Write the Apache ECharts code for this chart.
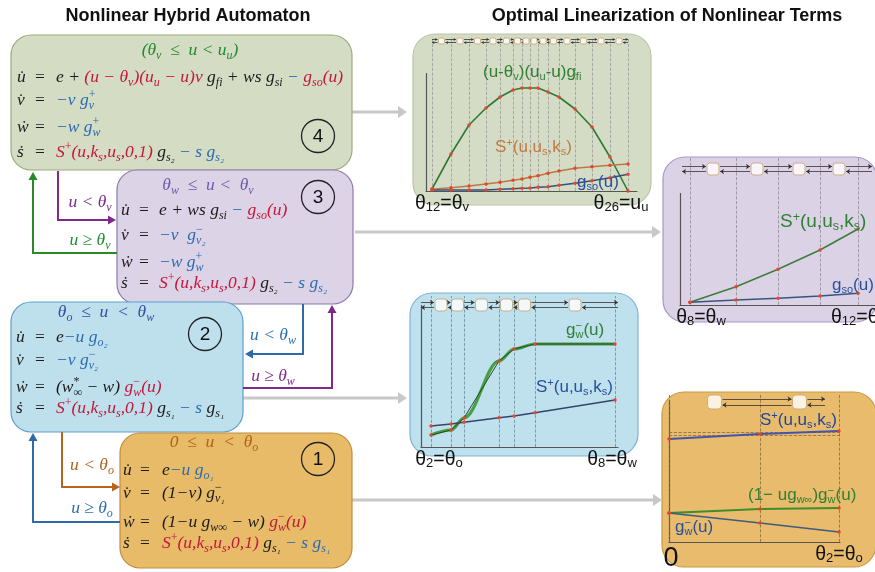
<!DOCTYPE html>
<html><head><meta charset="utf-8">
<script src="https://cdn.jsdelivr.net/npm/echarts@6/dist/echarts.min.js"></script>
<style>html,body{margin:0;padding:0;background:#fff}#c{width:875px;height:572px}</style>
</head><body><div id="c"></div><script>
// ---------------- data ----------------
// Mode 4 panel: breakpoints θ12..θ26 (relative u units) and PWL values
const p4Breaks = [0, 19, 37, 54, 68, 81, 90, 98, 106, 116, 127, 143, 160, 178, 196];
const p4Fi  = [0.02, 0.37, 0.66, 0.83, 0.94, 1.01, 1.03, 1.03, 1.03, 0.99, 0.94, 0.82, 0.64, 0.34, 0.00];
const p4S   = [0.017, 0.033, 0.05, 0.07, 0.087, 0.107, 0.12, 0.137, 0.153, 0.177, 0.20, 0.227, 0.243, 0.257, 0.27];
const p4Gso = [0.01, 0.01, 0.01, 0.01, 0.017, 0.023, 0.027, 0.03, 0.037, 0.043, 0.057, 0.077, 0.103, 0.133, 0.167];
const p4Ticks = [['θ','12','=θ','v'], ['θ','26','=u','u']];
// Mode 3 panel: θ8..θ12
const p3Breaks = [0, 46, 88, 130, 168];
const p3S   = [0.027, 0.183, 0.357, 0.55, 0.76];
const p3Gso = [0.027, 0.05, 0.067, 0.09, 0.117];
const p3Ticks = [['θ','8','=θ','w'], ['θ','12','=θ','v']];
// Mode 2 panel: θ2..θ8
const p2Breaks = [0, 20, 33, 68, 83, 104, 184];
const p2Gw = [0.12, 0.17, 0.29, 0.86, 0.98, 1.03, 1.03];
const p2S  = [0.21, 0.23, 0.247, 0.293, 0.31, 0.343, 0.47];
const p2Ticks = [['θ','2','=θ','o'], ['θ','8','=θ','w']];
// Mode 1 panel: 0..θ2
const p1Breaks = [0, 91, 170];
const p1S   = [1.03, 1.08, 1.11];
const p1Lin = [0.29, 0.33, 0.34];
const p1Gw  = [0.29, 0.19, 0.10];
const p1Levels = [1.07, 1.10];
const p1Ticks = [['0'], ['θ','2','=θ','o']];

// ---------------- styles ----------------
const SERIF = '"Liberation Serif","DejaVu Serif",serif';
const SANS = '"Liberation Sans",Arial,"DejaVu Sans",sans-serif';
const COL = {k:'#1c1c1c', r:'#c3173b', b:'#2c6cb0', g:'#1e8c2e', p:'#7c2a8c', l:'#6e5aa8', n:'#3b4ca0', o:'#b0621c',
             G:'#2f7f33', O:'#c27a42', B:'#28509a', N:'#24449a'};

function richFor(colors, family, size, sub, lh, italic, key) {
  const out = {};
  const slh = Math.round(sub * 1.2);
  for (const k in colors) {
    const base = {fontFamily: family, fontSize: size, lineHeight: lh, fontStyle: italic ? 'italic' : 'normal'};
    base[key] = colors[k];
    out[k] = base;
    out[k + 'n'] = Object.assign({}, base, {fontStyle: 'normal'});
    out[k + 's'] = Object.assign({}, base, {fontSize: sub, lineHeight: slh, verticalAlign: 'bottom'});
    out[k + 'u'] = Object.assign({}, base, {fontSize: sub, fontStyle: 'normal', lineHeight: slh, verticalAlign: 'top'});
    out[k + 'u0'] = Object.assign({}, out[k + 'u'], {width: 0});
  }
  return out;
}
const EQ = richFor(COL, SERIF, 17.5, 12, 23, true, 'fill');
const LAB = richFor(COL, SANS, 17, 11, 20, false, 'fill');
const LAB2 = richFor(COL, SANS, 19, 12.5, 22, false, 'fill');
const TICK = richFor({t:'#111'}, SANS, 19.5, 13, 21, false, 'color');
TICK.z = {color:'#111', fontFamily: SANS, fontSize: 27, lineHeight: 30};

function tickText(parts) {
  if (parts.length === 1) return '{z|' + parts[0] + '}';
  return parts.map((p, i) => (i % 2 === 0 ? '{t|' : '{ts|') + p + '}').join('');
}

// ---------------- graphic helpers ----------------
const G = [];
function rect(x, y, w, h, r, fill, stroke, z) {
  G.push({type:'rect', shape:{x, y, width:w, height:h, r}, style:{fill, stroke, lineWidth:1.2}, z, silent:true});
}
function txt(x, y, text, rich, align, z) {
  G.push({type:'text', z: z || 20, silent:true,
    style:{x, y, text, rich, align: align || 'left', verticalAlign:'middle'}});
}
function plain(x, y, text, font, fill, align) {
  G.push({type:'text', z:20, silent:true, style:{x, y, text, font, fill, align: align || 'center', verticalAlign:'middle'}});
}
function arrow(points, color, width, hl, hw, z) {
  const n = points.length;
  const [tx, ty] = points[n - 1], [px, py] = points[n - 2];
  const dx = tx - px, dy = ty - py, L = Math.hypot(dx, dy), ux = dx / L, uy = dy / L;
  const bx = tx - ux * hl, by = ty - uy * hl;
  const pts = points.slice(0, n - 1).concat([[bx, by]]);
  G.push({type:'polyline', z: z || 5, silent:true, shape:{points: pts}, style:{stroke: color, lineWidth: width, fill: null}});
  G.push({type:'polygon', z: z || 5, silent:true, shape:{points:[[tx, ty], [bx - uy * hw, by + ux * hw], [bx + uy * hw, by - ux * hw]]},
    style:{fill: color}});
}
function circleNum(cx, cy, t) {
  G.push({type:'circle', z:6, silent:true, shape:{cx, cy, r:16.5}, style:{fill:null, stroke:'#222', lineWidth:1.3}});
  plain(cx, cy + 1, t, '19px ' + SANS, '#111');
}
function eqBlock(x0, eqX, rhsX, ys, lhs, rhs) {
  ys.forEach((y, i) => {
    txt(x0, y, '{k|' + lhs[i] + '}', EQ, 'left');
    txt(eqX, y, '{kn|=}', EQ, 'center');
    txt(rhsX, y, rhs[i], EQ, 'left');
  });
}

// titles
plain(188, 16, 'Nonlinear Hybrid Automaton', 'bold 18px ' + SANS, '#111');
plain(667, 16, 'Optimal Linearization of Nonlinear Terms', 'bold 18px ' + SANS, '#111');

// gray linking arrows
arrow([[352,112],[407,112]], '#c8c8c8', 3, 9, 6, 1);
arrow([[355,232],[661,232]], '#c8c8c8', 3, 9, 6, 1);
arrow([[243,398],[407,398]], '#c8c8c8', 3, 9, 6, 1);
arrow([[352,500],[662,500]], '#c8c8c8', 3, 9, 6, 1);

// mode boxes
rect(11, 35, 341, 135, 20, '#d4dcc4', '#9aab7a', 2);
rect(117, 170, 236, 134, 20, '#ddd3e7', '#8e79ad', 2);
rect(11, 302, 232, 130, 20, '#bee0ed', '#5e9fc9', 2);
rect(120, 433, 232, 135, 20, '#e8bb69', '#c28d3e', 2);

// right panels (behind the plots)
rect(413, 34, 238, 171, 22, '#d5dcc6', '#bcc6a8', 0);
rect(663, 157, 214, 165, 22, '#dcd2e6', '#a996c4', 0);
rect(410, 293, 228, 163, 22, '#bfe0ed', '#7fb3d2', 0);
rect(662, 392, 214, 175, 22, '#e8bc6c', '#c99a44', 0);

// transition arrows
arrow([[58,171],[58,220],[116,220]], '#80288c', 2, 8, 4.5, 5);
arrow([[117,253],[33,253],[33,172]], '#2a8a2a', 2, 8, 4.5, 5);
arrow([[303,304],[303,354],[245,354]], '#2e6aa8', 2, 8, 4.5, 5);
arrow([[243,388],[332,388],[332,305]], '#80288c', 2, 8, 4.5, 5);
arrow([[62,432],[62,487],[120,487]], '#b8641c', 2, 8, 4.5, 5);
arrow([[120,522],[33,522],[33,433]], '#2e6aa8', 2, 8, 4.5, 5);
txt(90, 202, '{p|u < θ}{ps|v}', EQ, 'center');
txt(90, 240, '{g|u ≥ θ}{gs|v}', EQ, 'center');
txt(273, 335, '{b|u < θ}{bs|w}', EQ, 'center');
txt(273, 376, '{p|u ≥ θ}{ps|w}', EQ, 'center');
txt(92, 465, '{o|u < θ}{os|o}', EQ, 'center');
txt(92, 508, '{b|u ≥ θ}{bs|o}', EQ, 'center');

// equations
const LHS = ['u\u0307', 'v\u0307', 'w\u0307', 's\u0307'];
const Splus1 = '{r|S}{ru|+}{r|(u,k}{rs|s}{r|,u}{rs|s}{r|,0,1)}';
txt(190, 50, '{g|(θ}{gs|v}{g|  ≤  u < u}{gs|u}{g|)}', EQ, 'center');
eqBlock(17, 40, 56, [77, 100, 127, 152], LHS, [
  '{k|e + }{r|(u − θ}{rs|v}{r|)(u}{rs|u}{r| − u)v}{k| g}{ks|fi}{k| + ws g}{ks|si}{b| − }{r|g}{rs|so}{r|(u)}',
  '{b|−v g}{bu0|+}{bs|v}',
  '{b|−w g}{bu0|+}{bs|w}',
  Splus1 + '{k| g}{ks|s₂}{b| − s g}{bs|s₂}']);
circleNum(318, 136, '4');

txt(208, 185, '{l|θ}{ls|w}{l|  ≤  u <  θ}{ls|v}', EQ, 'center');
eqBlock(121, 144, 159, [210, 235, 262, 283], LHS, [
  '{k|e + ws g}{ks|si}{b| − }{r|g}{rs|so}{r|(u)}',
  '{b|−v  g}{bu0|−}{bs|v₂}',
  '{b|−w g}{bu0|+}{bs|w}',
  Splus1 + '{k| g}{ks|s₂}{b| − s g}{bs|s₂}']);
circleNum(318, 197, '3');

txt(106, 312, '{n|θ}{ns|o}{n|  ≤  u  <  θ}{ns|w}', EQ, 'center');
eqBlock(16, 40, 56, [337, 360, 387, 408], LHS, [
  '{k|e}{b|−u g}{bs|o₂}',
  '{b|−v g}{bu0|−}{bs|v₂}',
  '{k|(w}{ku0|*}{ks|∞}{k| − w) }{r|g}{ru0|−}{rs|w}{r|(u)}',
  Splus1 + '{k| g}{ks|s₁}{b| − s }{k|g}{ks|s₁}']);
circleNum(205, 334, '2');

txt(214, 442, '{o|0  ≤  u  <  θ}{os|o}', EQ, 'center');
eqBlock(123, 145, 162, [470, 493, 522, 543], LHS, [
  '{k|e}{b|−u g}{bs|o₁}',
  '{k|(1−v) g}{ku0|−}{ks|v₁}',
  '{k|(1−u g}{ks|w∞}{k| − w) }{r|g}{ru0|−}{rs|w}{r|(u)}',
  Splus1 + '{k| g}{ks|s₁}{b| − s g}{bs|s₁}']);
circleNum(318, 459, '1');

// panel labels
txt(483, 72, '{G|(u-θ}{Gs|v}{G|)(u}{Gs|u}{G|-u)g}{Gs|fi}', LAB, 'left', 20);
txt(495, 147, '{O|S}{Ou|+}{O|(u,u}{Os|s}{O|,k}{Os|s}{O|)}', LAB, 'left', 20);
txt(577, 182, '{B|g}{Bs|so}{B|(u)}', LAB, 'left', 20);
txt(780, 222, '{G|S}{Gu|+}{G|(u,u}{Gs|s}{G|,k}{Gs|s}{G|)}', LAB2, 'left', 20);
txt(832, 285, '{B|g}{Bs|so}{B|(u)}', LAB, 'left', 20);
txt(566, 330, '{G|g}{Gu0|−}{Gs|w}{G|(u)}', LAB, 'left', 20);
txt(536, 387, '{B|S}{Bu|+}{B|(u,u}{Bs|s}{B|,k}{Bs|s}{B|)}', LAB, 'left', 20);
txt(760, 420, '{N|S}{Nu|+}{N|(u,u}{Ns|s}{N|,k}{Ns|s}{N|)}', LAB, 'left', 20);
txt(748, 495, '{G|(1− ug}{Gs|w∞}{G|)g}{Gu0|−}{Gs|w}{G|(u)}', LAB, 'left', 20);
txt(675, 527, '{B|g}{Bu0|−}{Bs|w}{B|(u)}', LAB, 'left', 20);

// ---------------- plots ----------------
const panels = [
  {grid:{left:426, top:37, width:211, height:154}, xMin:-6, xMax:205, yMax:1.54, breaks:p4Breaks,
   curves:[{data:p4Fi, color:'#2f7a33', width:1.6}, {data:p4S, color:'#b97a45', width:1.6}, {data:p4Gso, color:'#34507e', width:1.4}],
   chainY:1.50, chain:[0, 196], sq:6, gap:1.6, arr:2.5, yTop:1.18, ticks:p4Ticks, dash:'#9a9a9a', shift:[20, 14]},
  {grid:{left:680, top:158, width:195, height:147}, xMin:-10, xMax:185, yMax:1.47, breaks:p3Breaks,
   curves:[{data:p3S, color:'#3a7d3c', width:1.5}, {data:p3Gso, color:'#37557f', width:1.4}],
   chainY:1.36, chain:[-8, 182], sq:12, gap:2.5, arr:4, yTop:1.12, ticks:p3Ticks, dash:'#8f8a96', shift:[22, 0]},
  {grid:{left:421, top:296, width:197, height:151}, xMin:-10, xMax:187, yMax:1.51, breaks:p2Breaks,
   curves:[{data:p2Gw, color:'#45a045', width:3.2, smooth:true, nosym:true}, {data:p2Gw, color:'#2d452d', width:1},
           {data:p2S, color:'#33466a', width:1.5}],
   chainY:1.42, chain:[-10, 187], sq:12, gap:2.5, arr:4, yTop:1.42, ticks:p2Ticks, dash:'#6c8a98', shift:[16, 6]},
  {grid:{left:669, top:395, width:171, height:147}, xMin:0, xMax:171, yMax:1.47, breaks:p1Breaks,
   curves:[{data:p1S, color:'#4454aa', width:2}, {data:p1Lin, color:'#3f8d2c', width:2}, {data:p1Gw, color:'#405b80', width:1.6}],
   chainY:1.40, chain:[40, 156], sq:14, gap:3, arr:4, yTop:1.42, ticks:p1Ticks, dash:'#8a6a3a', levels:p1Levels, shift:[4, 0]}
];

const grids = [], xAxes = [], yAxes = [], series = [];
panels.forEach((p, i) => {
  grids.push(Object.assign({outerBoundsMode:'none', containLabel:false}, p.grid));
  const first = p.breaks[0], last = p.breaks[p.breaks.length - 1];
  const rich = Object.assign({}, TICK, {sa:{width:p.shift[0], lineHeight:21}, sb:{width:p.shift[1], lineHeight:21}});
  xAxes.push({type:'value', gridIndex:i, min:p.xMin, max:p.xMax,
    axisLine:{show:true, onZero:false, lineStyle:{color:'#555', width:1.2}}, axisTick:{show:false}, splitLine:{show:false},
    axisLabel:{show:true, customValues:[first, last], margin:2, hideOverlap:false, showMinLabel:true, showMaxLabel:true,
      formatter: v => v === first ? '{sa|}' + tickText(p.ticks[0]) : tickText(p.ticks[1]) + '{sb|}', rich}});
  yAxes.push({type:'value', gridIndex:i, min:0, max:p.yMax, show:false});
  const ax = {xAxisIndex:i, yAxisIndex:i, silent:true, animation:false};
  // dashed breakpoint guides (+ optional level guides)
  const mlData = p.breaks.map(b => ({xAxis:b}));
  (p.levels || []).forEach(v => mlData.push({yAxis:v}));
  series.push(Object.assign({type:'line', z:3, data:p.breaks.map((b, j) => [b, p.curves[0].data[j]]), showSymbol:false,
    lineStyle:{opacity:0},
    markLine:{silent:true, symbol:['none','none'], label:{show:false}, animation:false,
      lineStyle:{type:'dashed', color:p.dash, width:0.8}, data:mlData}}, ax));
  // y axis line
  series.push(Object.assign({type:'lines', coordinateSystem:'cartesian2d', z:4, polyline:false,
    lineStyle:{color:'#555', width:1.2, opacity:1, curveness:0}, symbol:['none','none'],
    data:[{coords:[[p.xMin, 0], [p.xMin, p.yTop]]}]}, ax));
  // curves
  p.curves.forEach(c => {
    series.push(Object.assign({type:'line', z:5, data:p.breaks.map((b, j) => [b, c.data[j]]),
      smooth: c.smooth ? 0.35 : false, smoothMonotone:'x',
      symbol:'circle', symbolSize:3.5, showSymbol:!c.nosym, itemStyle:{color:'#e8442a'},
      lineStyle:{color:c.color, width:c.width}}, ax));
  });
  // chain of modes (squares + transition arrows)
  const mids = p.breaks.slice(1).map((b, j) => (b + p.breaks[j]) / 2);
  const xs = (p.xMax - p.xMin) / p.grid.width, ys = p.yMax / p.grid.height;
  const half = (p.sq / 2 + 1) * xs, dy = p.gap * ys;
  const stops = [p.chain[0]].concat(mids.filter(m => m > p.chain[0] && m < p.chain[1])).concat([p.chain[1]]);
  const up = [], down = [];
  for (let j = 0; j + 1 < stops.length; j++) {
    const a = stops[j] + (j === 0 ? 0 : half), b = stops[j + 1] - (j + 1 === stops.length - 1 ? 0 : half);
    if (b - a <= 0) continue;
    up.push({coords:[[a, p.chainY + dy], [b, p.chainY + dy]]});
    down.push({coords:[[b, p.chainY - dy], [a, p.chainY - dy]]});
  }
  series.push(Object.assign({type:'lines', coordinateSystem:'cartesian2d', z:6, polyline:false,
    lineStyle:{color:'#333', width:0.8, opacity:1}, symbol:['none','arrow'], symbolSize:p.arr,
    data:up.concat(down)}, ax));
  series.push(Object.assign({type:'scatter', z:7, symbol:'roundRect', symbolSize:p.sq,
    itemStyle:{color:'#ffffff', borderColor:'#c8a070', borderWidth:1},
    data:mids.map(m => [m, p.chainY])}, ax));
});

const chart = echarts.init(document.getElementById('c'), null, {renderer:'canvas', width:875, height:572});
chart.setOption({
  animation:false,
  backgroundColor:'#ffffff',
  grid:grids, xAxis:xAxes, yAxis:yAxes, series:series,
  graphic:{elements:G}
});
</script></body></html>
